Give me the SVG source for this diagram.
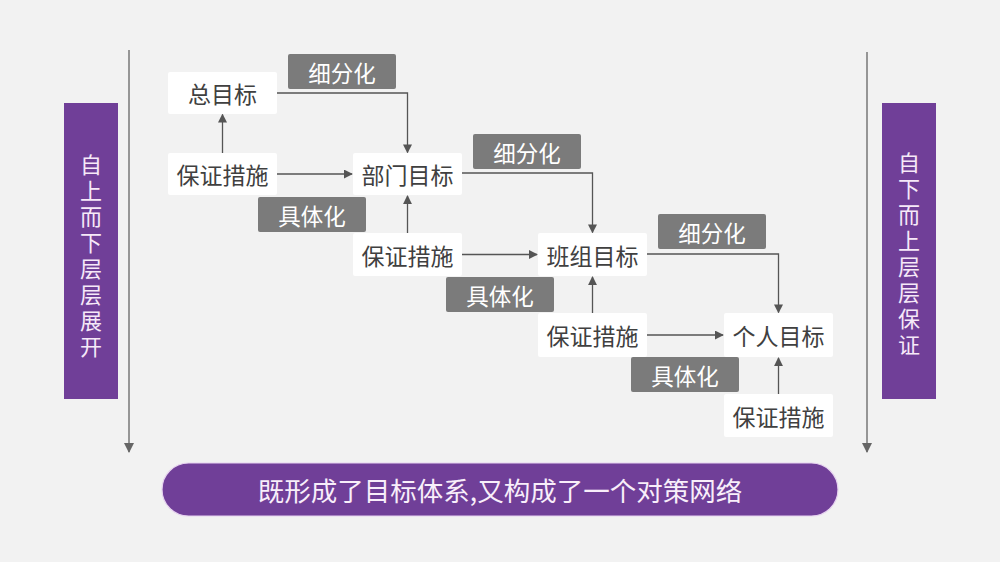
<svg xmlns="http://www.w3.org/2000/svg" width="1000" height="562" viewBox="0 0 1000 562">
<defs>
<marker id="ah" viewBox="0 0 10 10" refX="9" refY="5" markerWidth="9" markerHeight="9" markerUnits="userSpaceOnUse" orient="auto">
<path d="M0,0 L10,5 L0,10 Z" fill="#555"/>
</marker>
<marker id="ahs" viewBox="0 0 10 10" refX="9" refY="5" markerWidth="10" markerHeight="10" markerUnits="userSpaceOnUse" orient="auto">
<path d="M0,0 L10,5 L0,10 Z" fill="#666"/>
</marker>
<style>
.box{fill:#fff;}
.bt{font-family:"Noto Sans CJK SC","Noto Sans",sans-serif;font-size:23px;fill:#404040;text-anchor:middle;dominant-baseline:central;}
.tag{fill:#7b7b7b;}
.tt{font-family:"Noto Sans CJK SC","Noto Sans",sans-serif;font-size:22.5px;fill:#fff;text-anchor:middle;dominant-baseline:central;}
.side{fill:#703f98;}
.vt{font-family:"Noto Sans CJK SC","Noto Sans",sans-serif;font-size:22px;fill:#f6e9f8;text-anchor:middle;dominant-baseline:central;}
.cn{fill:none;stroke:#555;stroke-width:1.3;marker-end:url(#ah);}
.ax{fill:none;stroke:#777;stroke-width:1.5;marker-end:url(#ahs);}
</style>
</defs>
<rect width="1000" height="562" fill="#f2f2f2"/>

<g id="axes">
<line class="ax" x1="129" y1="50" x2="129" y2="452"/>
<line class="ax" x1="867" y1="52" x2="867" y2="452"/>
</g>

<g id="left-label">
<rect class="side" x="64" y="103" width="54" height="296"/>
<text class="vt"><tspan x="91" y="163">自</tspan><tspan x="91" y="189">上</tspan><tspan x="91" y="215">而</tspan><tspan x="91" y="241">下</tspan><tspan x="91" y="267">层</tspan><tspan x="91" y="293">层</tspan><tspan x="91" y="319">展</tspan><tspan x="91" y="345">开</tspan></text>
</g>
<g id="right-label">
<rect class="side" x="882" y="103" width="54" height="296"/>
<text class="vt"><tspan x="909" y="161">自</tspan><tspan x="909" y="187">下</tspan><tspan x="909" y="213">而</tspan><tspan x="909" y="239">上</tspan><tspan x="909" y="265">层</tspan><tspan x="909" y="291">层</tspan><tspan x="909" y="317">保</tspan><tspan x="909" y="343">证</tspan></text>
</g>

<g id="tags">
<g id="tag1"><rect class="tag" x="288" y="54" width="108" height="35" rx="2"/><text class="tt" x="342" y="71.5">细分化</text></g>
<g id="tag2"><rect class="tag" x="473" y="134" width="108" height="35" rx="2"/><text class="tt" x="527" y="151.5">细分化</text></g>
<g id="tag3"><rect class="tag" x="658" y="214" width="108" height="35" rx="2"/><text class="tt" x="712" y="231.5">细分化</text></g>
<g id="tag4"><rect class="tag" x="258" y="197" width="108" height="35" rx="2"/><text class="tt" x="312" y="214.5">具体化</text></g>
<g id="tag5"><rect class="tag" x="446" y="277" width="108" height="35" rx="2"/><text class="tt" x="500" y="294.5">具体化</text></g>
<g id="tag6"><rect class="tag" x="631" y="357" width="108" height="35" rx="2"/><text class="tt" x="685" y="374.5">具体化</text></g>
</g>

<g id="connectors">
<path class="cn" d="M222.5,153 V114.5"/>
<path class="cn" d="M277,174 H352"/>
<path class="cn" d="M277,93 H407.5 V152.5"/>
<path class="cn" d="M407.5,233 V196"/>
<path class="cn" d="M462,254.5 H537"/>
<path class="cn" d="M462,173 H592.5 V232.5"/>
<path class="cn" d="M592.5,313 V277"/>
<path class="cn" d="M647,335 H723"/>
<path class="cn" d="M647,254 H778.5 V312.5"/>
<path class="cn" d="M778.5,394 V358"/>
</g>

<g id="n1"><rect class="box" x="168" y="72" width="109" height="42" rx="2"/><text class="bt" x="222.5" y="93">总目标</text></g>
<g id="n2"><rect class="box" x="168" y="153" width="109" height="42" rx="2"/><text class="bt" x="222.5" y="174">保证措施</text></g>
<g id="n3"><rect class="box" x="353" y="153" width="109" height="42" rx="2"/><text class="bt" x="407.5" y="174">部门目标</text></g>
<g id="n4"><rect class="box" x="353" y="233" width="109" height="43" rx="2"/><text class="bt" x="407.5" y="254.5">保证措施</text></g>
<g id="n5"><rect class="box" x="538" y="233" width="109" height="43" rx="2"/><text class="bt" x="592.5" y="254.5">班组目标</text></g>
<g id="n6"><rect class="box" x="538" y="313" width="109" height="44" rx="2"/><text class="bt" x="592.5" y="335">保证措施</text></g>
<g id="n7"><rect class="box" x="724" y="313" width="109" height="44" rx="2"/><text class="bt" x="778.5" y="335">个人目标</text></g>
<g id="n8"><rect class="box" x="724" y="394" width="109" height="43" rx="2"/><text class="bt" x="778.5" y="415.5">保证措施</text></g>

<g id="summary">
<rect x="162" y="463" width="676" height="53" rx="26.5" fill="#703f98" stroke="#e6d2ef" stroke-width="1.2"/>
<text x="500" y="489.5" font-family="'Noto Sans CJK SC','Noto Sans',sans-serif" font-size="26.5" fill="#f8eefa" text-anchor="middle" dominant-baseline="central">既形成了目标体系,又构成了一个对策网络</text>
</g>
</svg>
